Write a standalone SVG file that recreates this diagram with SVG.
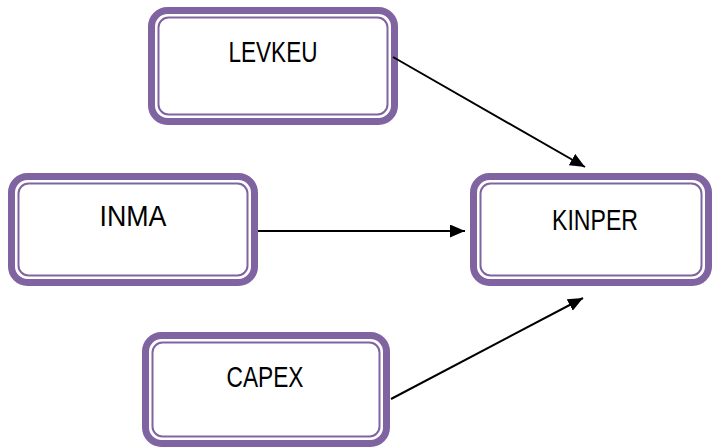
<svg xmlns="http://www.w3.org/2000/svg" width="712" height="448" viewBox="0 0 712 448">
<style>
.outer{fill:#fff;stroke:#8064A2;stroke-width:7}
.inner{fill:none;stroke:#8064A2;stroke-width:2}
.lbl{font-family:"Liberation Sans",Arial,sans-serif;font-size:29px;fill:#000;text-anchor:middle}
.edge{stroke:#000;stroke-width:2;fill:none}
</style>
<defs>
<marker id="ah" markerUnits="userSpaceOnUse" markerWidth="15" markerHeight="13" refX="15" refY="6.5" orient="auto">
<path d="M0,0 L15,6.5 L0,13 z" fill="#000"/>
</marker>
</defs>
<rect width="712" height="448" fill="#fff"/>
<g id="node-levkeu">
<rect class="outer" x="151.5" y="10.5" width="243" height="111" rx="16"/>
<rect class="inner" x="158.5" y="17.5" width="229" height="97" rx="10"/>
<text class="lbl" x="273" y="62" textLength="89" lengthAdjust="spacingAndGlyphs">LEVKEU</text>
</g>
<g id="node-inma">
<rect class="outer" x="11.5" y="176.5" width="243" height="106" rx="16"/>
<rect class="inner" x="18.5" y="183.5" width="229" height="92" rx="10"/>
<text class="lbl" x="133" y="226" textLength="67" lengthAdjust="spacingAndGlyphs">INMA</text>
</g>
<g id="node-kinper">
<rect class="outer" x="473.5" y="176.5" width="235" height="106" rx="16"/>
<rect class="inner" x="480.5" y="183.5" width="221" height="92" rx="10"/>
<text class="lbl" x="595" y="230" textLength="86" lengthAdjust="spacingAndGlyphs">KINPER</text>
</g>
<g id="node-capex">
<rect class="outer" x="145.5" y="335.5" width="241" height="108" rx="16"/>
<rect class="inner" x="152.5" y="342.5" width="227" height="94" rx="10"/>
<text class="lbl" x="265" y="387" textLength="77" lengthAdjust="spacingAndGlyphs">CAPEX</text>
</g>
<g id="connectors">
<line class="edge" x1="393" y1="57" x2="585" y2="167" marker-end="url(#ah)"/>
<line class="edge" x1="258" y1="231" x2="465" y2="231" marker-end="url(#ah)"/>
<line class="edge" x1="391" y1="399" x2="583" y2="298" marker-end="url(#ah)"/>
</g>
</svg>
